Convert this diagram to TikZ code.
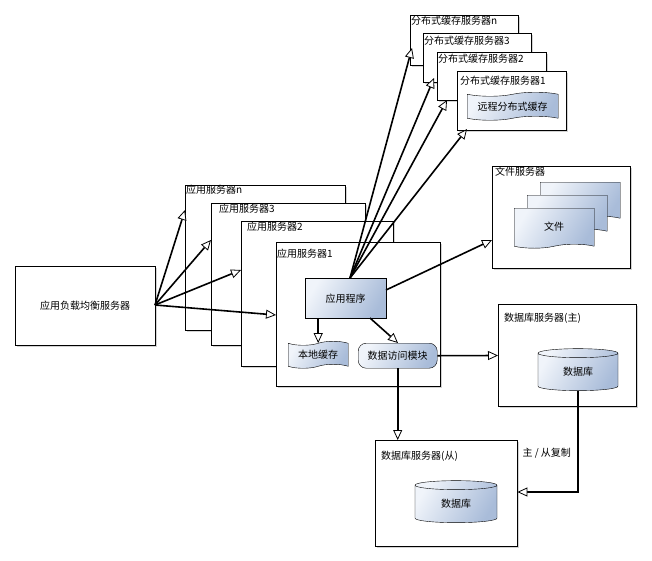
\documentclass[tikz,border=0pt]{standalone}
\usepackage{fontspec}
\newfontfamily\cjk{Noto Sans CJK SC}
\usetikzlibrary{arrows.meta,shapes.symbols,shapes.geometric,shadows}
\definecolor{gl}{HTML}{F0F4FA}
\definecolor{gd}{HTML}{A9BCD9}
\begin{document}
\begin{tikzpicture}[x=1pt,y=-1pt,font=\cjk\fontsize{10}{12}\selectfont,
  box/.style={draw,fill=white,anchor=north west,inner sep=0pt,drop shadow={shadow xshift=1.5pt,shadow yshift=-1.5pt,opacity=0.35}},
  lbl/.style={anchor=north west,inner sep=1pt},
  grad/.style={draw,left color=gl,right color=gd,shading angle=60},
  tp/.style={grad,tape,tape bend height=4pt,inner sep=1pt,anchor=north west},
  doc/.style={tp,tape bend top=none},
  cyl/.style={grad,cylinder,shape border rotate=90,aspect=0.3,anchor=center,inner sep=0pt,minimum width=80,minimum height=42},
  ar/.style={line width=1.6pt,-{Triangle[open,fill=white,length=10pt,width=9pt,line width=0.8pt]}}]
\useasboundingbox (0,0) rectangle (652,560);
% load balancer
\node[box,minimum width=140,minimum height=79] (lb) at (15,266) {应用负载均衡服务器};
% app servers
\node[box,minimum width=160,minimum height=145] (asn) at (185,185) {};
\node[lbl] at (185,184) {应用服务器n};
\node[box,minimum width=154,minimum height=142] (as3) at (211,203) {};
\node[lbl] at (218,203) {应用服务器3};
\node[box,minimum width=152,minimum height=145] (as2) at (241,221) {};
\node[lbl] at (246,221) {应用服务器2};
\node[box,minimum width=164,minimum height=144] (as1) at (276,242) {};
\node[lbl] at (276,248) {应用服务器1};
\node[grad,anchor=north west,minimum width=81,minimum height=40,inner sep=0] (app) at (305,278) {应用程序};
\node[tp,minimum width=60,minimum height=27] (lc) at (288,343) {本地缓存};
\node[grad,rounded corners=8pt,anchor=north west,minimum width=79,minimum height=25,inner sep=0] (dam) at (358,343) {数据访问模块};
% cache servers
\node[box,minimum width=108,minimum height=50] (csn) at (410,15) {};
\node[lbl] at (410,15) {分布式缓存服务器n};
\node[box,minimum width=108,minimum height=49] (cs3) at (423,33) {};
\node[lbl] at (423,35) {分布式缓存服务器3};
\node[box,minimum width=109,minimum height=48] (cs2) at (437,52) {};
\node[lbl] at (437,53) {分布式缓存服务器2};
\node[box,minimum width=109,minimum height=59] (cs1) at (457,71) {};
\node[lbl] at (459,75) {分布式缓存服务器1};
\node[tp,minimum width=91,minimum height=28] (rc) at (467,94) {远程分布式缓存};
% file server
\node[box,minimum width=138,minimum height=102] (fs) at (492,166) {};
\node[lbl] at (494,166) {文件服务器};
\node[doc,minimum width=80,minimum height=38] (f3) at (540,182) {};
\node[doc,minimum width=80,minimum height=38] (f2) at (527,195) {};
\node[doc,minimum width=80,minimum height=40] (f1) at (514,208) {文件};
% db master
\node[box,minimum width=138,minimum height=102] (dbm) at (498,304) {};
\node[lbl] at (503,312) {数据库服务器(主)};
\node[cyl] (cm) at (578,372) {数据库};
% db slave
\node[box,minimum width=142,minimum height=106] (dbs) at (375,440) {};
\node[lbl] at (380,450) {数据库服务器(从)};
\node[cyl,minimum width=82] (cs) at (456,504) {数据库};
% arrows
\coordinate (o) at (155,305);
\draw[ar] (o) -- (185,210);
\draw[ar] (o) -- (211,240);
\draw[ar] (o) -- (241,270);
\draw[ar] (o) -- (276,315);
\coordinate (t) at (350,278);
\draw[ar] (t) -- (412,48);
\draw[ar] (t) -- (434,78);
\draw[ar] (t) -- (447,100);
\draw[ar] (t) -- (467,129);
\draw[ar] (386,290) -- (492,240);
\draw[ar] (app.south -| lc) -- (lc.north);
\draw[ar] (370,318) -- (398,343);
\draw[ar] (dam.east) -- (498,355.5);
\draw[ar] (dam.south) -- (dam.south |- dbs.north);
\coordinate (bend) at (578,492);
\draw[ar] (cm.south) -- (bend) -- (bend -| dbs.east);
\node[anchor=west] at (519,453) {主 / 从复制};
\end{tikzpicture}
\end{document}
